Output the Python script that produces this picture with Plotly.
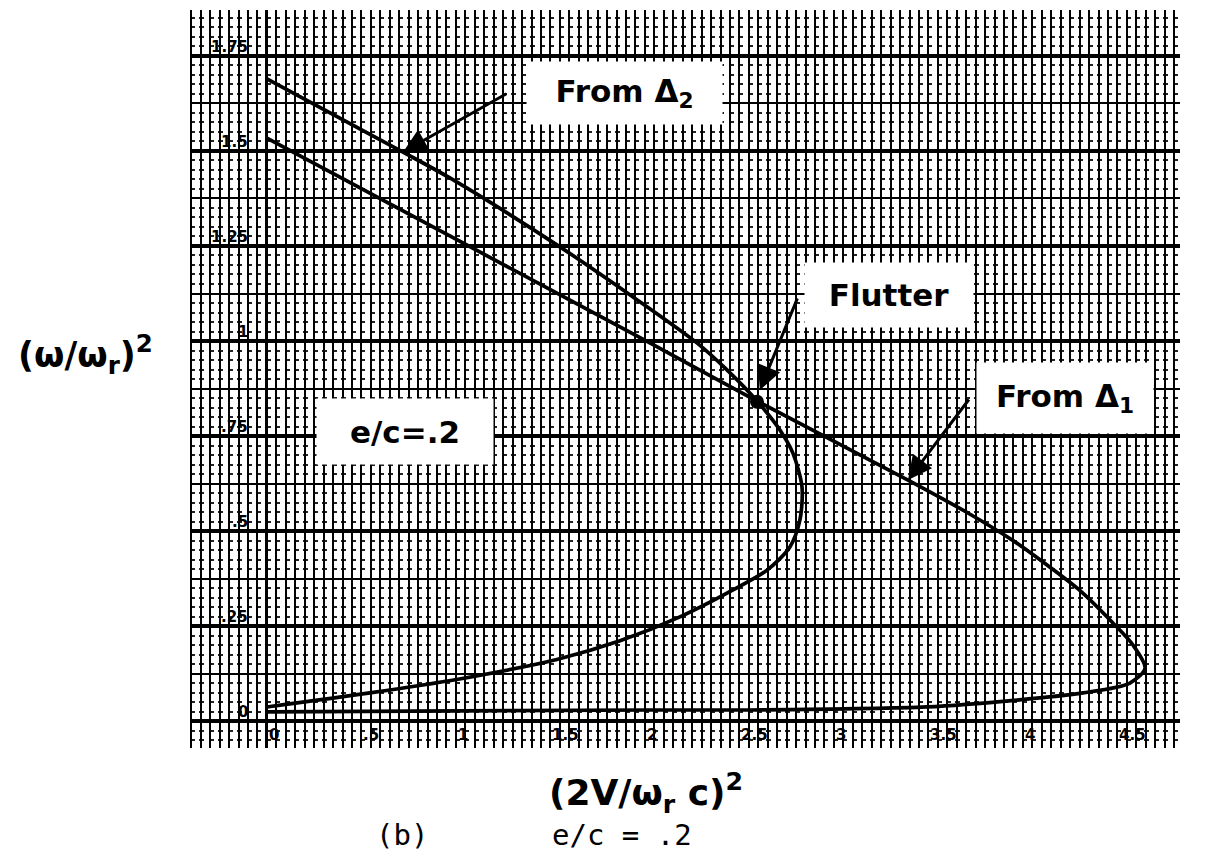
import plotly.graph_objects as go

# Stability boundary curves (x = (2V/omega_r c)^2, y = (omega/omega_r)^2)
delta1_x = [0.0, 1.037, 2.026, 2.593, 3.392, 3.70, 3.95, 4.15, 4.302, 4.476, 4.582, 4.646,
            4.566, 4.317, 3.968, 3.492, 2.556, 2.026, 0.0]
delta1_y = [1.534, 1.258, 0.995, 0.842, 0.634, 0.550, 0.474, 0.402, 0.343, 0.258, 0.200, 0.139,
            0.100, 0.074, 0.055, 0.037, 0.029, 0.029, 0.024]

delta2_x = [0.0, 0.72, 0.968, 1.534, 1.937, 2.275, 2.434, 2.593, 2.714, 2.783, 2.831,
            2.820, 2.767, 2.646, 2.466, 2.185, 1.868, 1.534, 1.011, 0.545, 0.0]
delta2_y = [1.69, 1.497, 1.429, 1.253, 1.116, 0.995, 0.924, 0.842, 0.766, 0.705, 0.616,
            0.529, 0.458, 0.397, 0.345, 0.274, 0.211, 0.162, 0.110, 0.074, 0.037]

flutter_x = [2.593]
flutter_y = [0.840]

x_tick_vals = [0, 0.5, 1, 1.5, 2, 2.5, 3, 3.5, 4, 4.5]
x_tick_text = ["0", ".5", "1", "1.5", "2", "2.5", "3", "3.5", "4", "4.5"]
y_tick_vals = [0, 0.25, 0.5, 0.75, 1, 1.25, 1.5, 1.75]
y_tick_text = ["0", ".25", ".5", ".75", "1", "1.25", "1.5", "1.75"]

# heavy rules of the graph paper
heavy_rules = [-0.25, 0, 0.25, 0.5, 0.75, 1.0, 1.25, 1.5, 1.75]

LETTER_FONT = "DejaVu Sans"

fig = go.Figure()

line_style = dict(color="black", width=3.7, shape="spline", smoothing=0.8)
fig.add_trace(go.Scatter(x=delta1_x, y=delta1_y, mode="lines", line=line_style,
                         hoverinfo="skip", showlegend=False))
fig.add_trace(go.Scatter(x=delta2_x, y=delta2_y, mode="lines", line=line_style,
                         hoverinfo="skip", showlegend=False))
fig.add_trace(go.Scatter(x=flutter_x, y=flutter_y, mode="markers",
                         marker=dict(color="black", size=14, symbol="circle"),
                         hoverinfo="skip", showlegend=False))

for v in heavy_rules:
    fig.add_shape(type="line", xref="paper", x0=0, x1=1, yref="y", y0=v, y1=v,
                  line=dict(color="black", width=4), layer="below")

annotations = []

tick_font = dict(family=LETTER_FONT, size=15, color="black", weight="bold")
# tick labels written on the paper
for v, t in zip(y_tick_vals, y_tick_text):
    annotations.append(dict(x=-0.09, y=v, xref="x", yref="y", text=t, showarrow=False,
                            xanchor="right", yanchor="bottom", yshift=-2,
                            font=tick_font))
for v, t in zip(x_tick_vals, x_tick_text):
    annotations.append(dict(x=v, y=0, xref="x", yref="y", text=t, showarrow=False,
                            xanchor="left", yanchor="top", xshift=0, yshift=-3,
                            font=tick_font))

# labelled boxes
box_font = dict(family=LETTER_FONT, size=31, color="black", weight="bold")
boxes = [
    ("From Δ<sub>2</sub>", 1.892, 1.653, 195, 62),
    ("Flutter", 3.291, 1.121, 168, 64),
    ("From Δ<sub>1</sub>", 4.222, 0.850, 176, 70),
    ("e/c=.2", 0.730, 0.761, 176, 65),
]
for text, bx, by, w, h in boxes:
    annotations.append(dict(x=bx, y=by, xref="x", yref="y", text=text, showarrow=False,
                            width=w, height=h, bgcolor="white", borderpad=0,
                            xanchor="center", yanchor="middle", font=box_font))

# leader arrows
arrows = [
    ((1.275, 1.653), (0.72, 1.497)),
    ((2.810, 1.116), (2.608, 0.871)),
    ((3.720, 0.850), (3.392, 0.634)),
]
for (tx, ty), (hx, hy) in arrows:
    annotations.append(dict(x=hx, y=hy, ax=tx, ay=ty, xref="x", yref="y",
                            axref="x", ayref="y", text="", showarrow=True,
                            arrowhead=2, arrowsize=1.6, arrowwidth=3, arrowcolor="black"))

# axis titles and caption
annotations.append(dict(x=-0.106, y=0.533, xref="paper", yref="paper",
                        text="(ω/ω<sub>r</sub>)<sup>2</sup>", showarrow=False,
                        xanchor="center", yanchor="middle",
                        font=dict(family=LETTER_FONT, size=35, color="black", weight="bold")))
annotations.append(dict(x=0.461, y=-0.061, xref="paper", yref="paper",
                        text="(2V/ω<sub>r</sub> c)<sup>2</sup>", showarrow=False,
                        xanchor="center", yanchor="middle",
                        font=dict(family=LETTER_FONT, size=36, color="black", weight="bold")))
caption_font = dict(family="DejaVu Sans Mono", size=29, color="black")
annotations.append(dict(x=0.214, y=-0.118, xref="paper", yref="paper",
                        text="(b)", showarrow=False,
                        xanchor="center", yanchor="middle", font=caption_font))
annotations.append(dict(x=0.436, y=-0.118, xref="paper", yref="paper",
                        text="e/c = .2", showarrow=False,
                        xanchor="center", yanchor="middle", font=caption_font))

fig.update_layout(
    width=1208, height=857,
    margin=dict(l=190, r=28, t=10, b=109),
    paper_bgcolor="white", plot_bgcolor="white",
    showlegend=False,
    annotations=annotations,
    xaxis=dict(range=[-0.407, 4.831], tick0=0, dtick=0.05, showgrid=True,
               gridcolor="black", gridwidth=2, zeroline=True, zerolinecolor="black",
               zerolinewidth=3, showticklabels=False, ticks="", showline=False,
               fixedrange=True),
    yaxis=dict(range=[-0.071, 1.871], tick0=0, dtick=0.125, showgrid=True,
               gridcolor="black", gridwidth=2, zeroline=False,
               showticklabels=False, ticks="", showline=False, fixedrange=True,
               minor=dict(tick0=0, dtick=0.025, showgrid=True, gridcolor="#222",
                          gridwidth=1.5, griddash="5px,4.45px")),
)

fig.write_html("out.html")
